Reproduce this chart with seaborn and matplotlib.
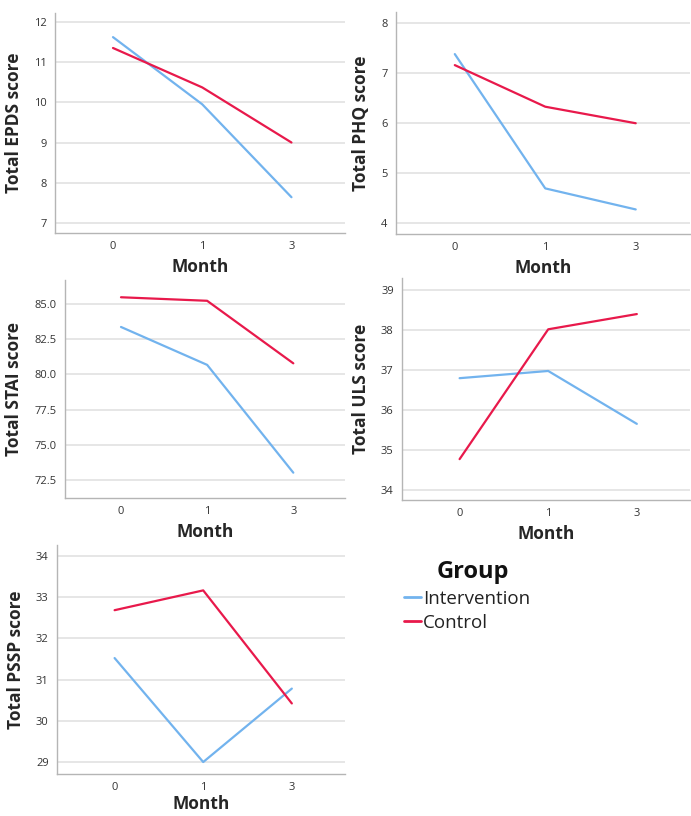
import matplotlib
matplotlib.use("Agg")
from matplotlib import pyplot as plt
import pandas as pd
import seaborn as sns

# data
months = ["0", "1", "3"]
groups = ["Intervention", "Control"]

epds_int = [11.62, 9.95, 7.64]
epds_ctl = [11.35, 10.37, 9.0]
phq_int = [7.37, 4.69, 4.27]
phq_ctl = [7.15, 6.32, 5.99]
stai_int = [83.35, 80.67, 73.05]
stai_ctl = [85.45, 85.2, 80.78]
uls_int = [36.79, 36.97, 35.65]
uls_ctl = [34.77, 38.01, 38.39]
pssp_int = [31.52, 29.0, 30.78]
pssp_ctl = [32.68, 33.16, 30.42]

sns.set_style('whitegrid')
plt.rcParams['font.family'] = ['Open Sans', 'DejaVu Sans']

palette = {"Intervention": "#72b3ee", "Control": "#e8194b"}

panels = [
    ("Total EPDS score", epds_int, epds_ctl, [7, 8, 9, 10, 11, 12], (6.75, 12.22), (55, 13, 345, 233)),
    ("Total PHQ score", phq_int, phq_ctl, [4, 5, 6, 7, 8], (3.78, 8.21), (396, 12, 690, 234)),
    ("Total STAI score", stai_int, stai_ctl, [72.5, 75.0, 77.5, 80.0, 82.5, 85.0], (71.26, 86.67), (65, 280, 345, 498)),
    ("Total ULS score", uls_int, uls_ctl, [34, 35, 36, 37, 38, 39], (33.75, 39.29), (402, 278, 690, 500)),
    ("Total PSSP score", pssp_int, pssp_ctl, [29, 30, 31, 32, 33, 34], (28.71, 34.26), (57, 545, 345, 774)),
]

W, H = 691, 816
fig = plt.figure(figsize=(W / 100, H / 100), dpi=100)

for i, (ylabel, vi, vc, yt, ylim, (l, t, r, b)) in enumerate(panels):
    ax = fig.add_axes([l / W, 1 - b / H, (r - l) / W, (b - t) / H])
    df = pd.DataFrame({
        "Month": months * 2,
        "score": vi + vc,
        "Group": ["Intervention"] * 3 + ["Control"] * 3,
    })
    sns.lineplot(data=df, x="Month", y="score", hue="Group", hue_order=groups,
                 palette=palette, linewidth=1.6, sort=False, legend=False, ax=ax)
    ax.set_xlim(-0.65, 2.6)
    ax.set_ylim(*ylim)
    ax.set_yticks(yt)
    ax.grid(axis='x', visible=False)
    ax.grid(axis='y', color='#e2e2e2', linewidth=1.2)
    for s in ['top', 'right']:
        ax.spines[s].set_visible(False)
    for s in ['left', 'bottom']:
        ax.spines[s].set_color('#b5b5b5')
        ax.spines[s].set_linewidth(1.0)
    ax.tick_params(axis='both', length=0, labelsize=8, labelcolor='#333333', pad=6)
    ax.set_ylabel(ylabel, fontsize=12.5, fontweight='bold', labelpad=8)
    ax.set_xlabel("Month", fontsize=12.5, fontweight='bold',
                  labelpad=1 if i == 4 else 4)

fig.text(473 / W, 1 - 572 / H, "Group", fontsize=17, fontweight='bold',
         ha='center', va='center', color='#111111')
handles = [plt.Line2D([], [], color=palette[g], linewidth=2) for g in groups]
leg = fig.legend(handles, groups, loc='upper left',
                 bbox_to_anchor=(404 / W, 1 - 590 / H), frameon=False,
                 fontsize=13.5, handlelength=0.9, handletextpad=0.1,
                 labelspacing=0.3, borderaxespad=0, borderpad=0)
for txt in leg.get_texts():
    txt.set_color('#222222')

fig.savefig("out.png", dpi=100, facecolor='white')
